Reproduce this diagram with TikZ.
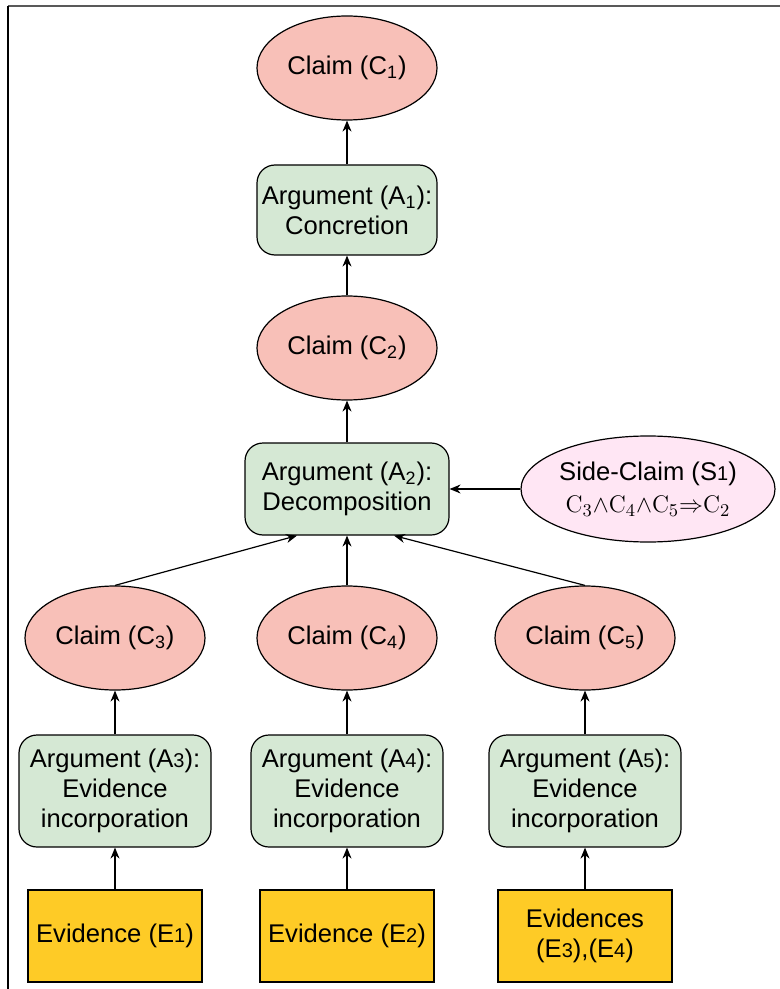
\documentclass[tikz,border=0pt]{standalone}
\usepackage[no-math]{fontspec}
\setmainfont{Liberation Sans}
\usetikzlibrary{shapes,arrows.meta,positioning}

\definecolor{claimred}{HTML}{F8C0B8}
\definecolor{argumentgreen}{HTML}{D5E8D4}
\definecolor{evidenceyellow}{HTML}{FECB26}
\definecolor{sidepink}{HTML}{FFE6F4}

% small index digits (A3, E1, ...)
\newcommand{\smidx}[1]{{\fontsize{10}{12}\selectfont #1}}

\begin{document}
\begin{tikzpicture}[
    every node/.style={font=\fontsize{12.8}{15}\selectfont, line width=0.6pt},
    claim/.style={ellipse, draw, fill=claimred, minimum width=90pt, minimum height=52pt, inner sep=0pt},
    argument/.style={rectangle, draw, fill=argumentgreen, rounded corners=9pt, align=center, inner sep=1pt, minimum width=96pt, minimum height=56pt},
    evidence/.style={rectangle, draw, fill=evidenceyellow, align=center, minimum width=87pt, minimum height=46pt, inner sep=1pt},
    sideclaim/.style={ellipse, draw, fill=sidepink, align=center, minimum width=127pt, minimum height=53pt, inner sep=0pt},
    line/.style={draw, -{Stealth[length=5.5pt,width=4.5pt]}, line width=0.6pt}
]

\useasboundingbox (0,0) rectangle (390pt,-494.5pt);
\draw[line width=0.8pt, black!65] (4pt,-3pt) -- (390pt,-3pt);
\draw[line width=0.6pt] (4pt,-3pt) -- (4pt,-494.5pt);

% main chain
\node [claim] (c1) at (173.5pt,-34pt) {Claim (C\textsubscript{1})};
\node [argument, below of=c1, node distance=71pt, minimum width=90pt, minimum height=45pt] (a1) {Argument (A\textsubscript{1}):\\Concretion};
\node [claim, below of=a1, node distance=69pt] (c2) {Claim (C\textsubscript{2})};
\node [argument, below of=c2, node distance=70.5pt, minimum width=102pt, minimum height=46pt] (a2) {Argument (A\textsubscript{2}):\\Decomposition};
\node [sideclaim, right of=a2, node distance=150.5pt] (s1) {Side-Claim (S\smidx{1})\\[1pt] $\mathrm{C}_3{\wedge}\mathrm{C}_4{\wedge}\mathrm{C}_5{\Rightarrow}\mathrm{C}_2$};

% sub-claims
\node [claim, below of=a2, node distance=74.5pt] (c4) {Claim (C\textsubscript{4})};
\node [claim, left of=c4, node distance=116pt] (c3) {Claim (C\textsubscript{3})};
\node [claim, right of=c4, node distance=119pt] (c5) {Claim (C\textsubscript{5})};

\node [argument, below of=c3, node distance=76.5pt] (a3) {Argument (A\smidx{3}):\\Evidence\\incorporation};
\node [argument, below of=c4, node distance=76.5pt] (a4) {Argument (A\smidx{4}):\\Evidence\\incorporation};
\node [argument, below of=c5, node distance=76.5pt] (a5) {Argument (A\smidx{5}):\\Evidence\\incorporation};

\node [evidence, below of=a3, node distance=72.5pt] (e1) {Evidence (E\smidx{1})};
\node [evidence, below of=a4, node distance=72.5pt] (e2) {Evidence (E\smidx{2})};
\node [evidence, below of=a5, node distance=72.5pt] (e3) {Evidences\\(E\smidx{3}),(E\smidx{4})};

\path [line] (a1) -- (c1);
\path [line] (c2) -- (a1);
\path [line] (a2) -- (c2);
\path [line] (s1) -- (a2);
\path [line] (c3.north) -- ([xshift=-25pt]a2.south);
\path [line] (c4) -- (a2);
\path [line] (c5.north) -- ([xshift=23.5pt]a2.south);
\path [line] (a3) -- (c3);
\path [line] (a4) -- (c4);
\path [line] (a5) -- (c5);
\path [line] (e1) -- (a3);
\path [line] (e2) -- (a4);
\path [line] (e3) -- (a5);

\end{tikzpicture}
\end{document}
